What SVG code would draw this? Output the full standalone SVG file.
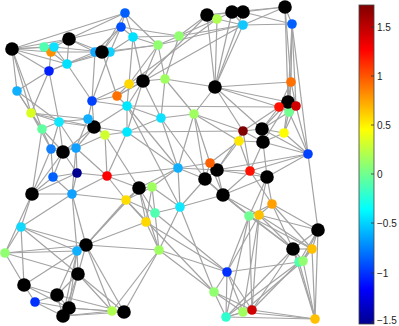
<svg xmlns="http://www.w3.org/2000/svg" width="399" height="326" viewBox="0 0 399 326">
<style>
.e{stroke:#a3a3a3;stroke-width:1.2;fill:none}
.k{fill:#000}
.t{font-family:"Liberation Sans",Arial,sans-serif;font-size:10px;fill:#222}
.tk{stroke:#333;stroke-width:0.8}
</style>
<defs>
<linearGradient id="jet" x1="0" y1="1" x2="0" y2="0">
<stop offset="0" stop-color="#00008f"/>
<stop offset="0.11" stop-color="#0000ff"/>
<stop offset="0.36" stop-color="#00ffff"/>
<stop offset="0.61" stop-color="#ffff00"/>
<stop offset="0.86" stop-color="#ff0000"/>
<stop offset="1" stop-color="#800000"/>
</linearGradient>
</defs>
<rect width="399" height="326" fill="#fff"/>
<g id="connectors">
<line class="e" x1="12" y1="49" x2="69" y2="39"/><line class="e" x1="12" y1="49" x2="44" y2="47"/><line class="e" x1="12" y1="49" x2="54" y2="47"/><line class="e" x1="12" y1="49" x2="51" y2="52"/><line class="e" x1="12" y1="49" x2="49" y2="71"/><line class="e" x1="12" y1="49" x2="17" y2="91"/><line class="e" x1="12" y1="49" x2="31" y2="113"/><line class="e" x1="12" y1="49" x2="67" y2="64"/><line class="e" x1="12" y1="49" x2="125" y2="13"/><line class="e" x1="12" y1="49" x2="42" y2="129"/><line class="e" x1="17" y1="91" x2="31" y2="113"/><line class="e" x1="44" y1="47" x2="69" y2="39"/><line class="e" x1="54" y1="47" x2="69" y2="39"/><line class="e" x1="51" y1="52" x2="67" y2="64"/><line class="e" x1="51" y1="52" x2="49" y2="71"/><line class="e" x1="54" y1="47" x2="67" y2="64"/><line class="e" x1="67" y1="64" x2="49" y2="71"/><line class="e" x1="69" y1="39" x2="67" y2="64"/><line class="e" x1="69" y1="39" x2="102" y2="52"/><line class="e" x1="69" y1="39" x2="95" y2="52"/><line class="e" x1="69" y1="39" x2="125" y2="13"/><line class="e" x1="69" y1="39" x2="121" y2="27"/><line class="e" x1="54" y1="47" x2="102" y2="52"/><line class="e" x1="51" y1="52" x2="95" y2="52"/><line class="e" x1="67" y1="64" x2="102" y2="52"/><line class="e" x1="67" y1="64" x2="110" y2="52"/><line class="e" x1="49" y1="71" x2="95" y2="52"/><line class="e" x1="49" y1="71" x2="17" y2="91"/><line class="e" x1="49" y1="71" x2="31" y2="113"/><line class="e" x1="17" y1="91" x2="42" y2="129"/><line class="e" x1="17" y1="91" x2="59" y2="122"/><line class="e" x1="67" y1="64" x2="92" y2="101"/><line class="e" x1="49" y1="71" x2="59" y2="122"/>
<line class="e" x1="102" y1="52" x2="125" y2="13"/><line class="e" x1="102" y1="52" x2="121" y2="27"/><line class="e" x1="110" y1="52" x2="121" y2="27"/><line class="e" x1="110" y1="52" x2="133" y2="37"/><line class="e" x1="95" y1="52" x2="121" y2="27"/><line class="e" x1="125" y1="13" x2="121" y2="27"/><line class="e" x1="125" y1="13" x2="133" y2="37"/><line class="e" x1="121" y1="27" x2="133" y2="37"/><line class="e" x1="102" y1="52" x2="158" y2="45"/><line class="e" x1="110" y1="52" x2="158" y2="45"/><line class="e" x1="133" y1="37" x2="158" y2="45"/><line class="e" x1="121" y1="27" x2="179" y2="36"/><line class="e" x1="133" y1="37" x2="179" y2="36"/><line class="e" x1="125" y1="13" x2="158" y2="45"/><line class="e" x1="95" y1="52" x2="92" y2="101"/><line class="e" x1="110" y1="52" x2="92" y2="101"/><line class="e" x1="102" y1="52" x2="117" y2="96"/>
<line class="e" x1="158" y1="45" x2="179" y2="36"/><line class="e" x1="158" y1="45" x2="165" y2="79"/><line class="e" x1="158" y1="45" x2="129" y2="84"/><line class="e" x1="158" y1="45" x2="143" y2="81"/><line class="e" x1="133" y1="37" x2="129" y2="84"/><line class="e" x1="133" y1="37" x2="143" y2="81"/><line class="e" x1="179" y1="36" x2="207" y2="15"/><line class="e" x1="179" y1="36" x2="217" y2="19"/><line class="e" x1="179" y1="36" x2="165" y2="79"/><line class="e" x1="179" y1="36" x2="243" y2="25"/><line class="e" x1="158" y1="45" x2="243" y2="25"/><line class="e" x1="207" y1="15" x2="232" y2="12"/><line class="e" x1="207" y1="15" x2="215" y2="87"/><line class="e" x1="217" y1="19" x2="215" y2="87"/><line class="e" x1="217" y1="19" x2="232" y2="12"/><line class="e" x1="217" y1="19" x2="243" y2="25"/><line class="e" x1="232" y1="12" x2="243" y2="25"/><line class="e" x1="232" y1="12" x2="285" y2="7"/><line class="e" x1="243" y1="12" x2="285" y2="7"/><line class="e" x1="243" y1="25" x2="285" y2="7"/><line class="e" x1="243" y1="25" x2="292" y2="24"/><line class="e" x1="243" y1="12" x2="292" y2="24"/><line class="e" x1="285" y1="7" x2="292" y2="24"/><line class="e" x1="232" y1="12" x2="215" y2="87"/><line class="e" x1="243" y1="12" x2="215" y2="87"/><line class="e" x1="243" y1="25" x2="215" y2="87"/><line class="e" x1="207" y1="15" x2="243" y2="12"/>
<line class="e" x1="285" y1="7" x2="291" y2="82"/><line class="e" x1="285" y1="7" x2="288" y2="102"/><line class="e" x1="292" y1="24" x2="291" y2="82"/><line class="e" x1="292" y1="24" x2="288" y2="102"/><line class="e" x1="292" y1="24" x2="296" y2="106"/><line class="e" x1="292" y1="24" x2="308" y2="154"/><line class="e" x1="291" y1="82" x2="288" y2="102"/><line class="e" x1="291" y1="82" x2="279" y2="107"/><line class="e" x1="291" y1="82" x2="296" y2="106"/><line class="e" x1="291" y1="82" x2="289" y2="112"/><line class="e" x1="279" y1="107" x2="289" y2="112"/><line class="e" x1="296" y1="106" x2="289" y2="112"/><line class="e" x1="215" y1="87" x2="288" y2="102"/><line class="e" x1="215" y1="87" x2="279" y2="107"/><line class="e" x1="215" y1="87" x2="291" y2="82"/><line class="e" x1="288" y1="102" x2="262" y2="129"/><line class="e" x1="279" y1="107" x2="262" y2="129"/><line class="e" x1="289" y1="112" x2="262" y2="129"/><line class="e" x1="289" y1="112" x2="284" y2="133"/><line class="e" x1="296" y1="106" x2="284" y2="133"/><line class="e" x1="288" y1="102" x2="284" y2="133"/><line class="e" x1="279" y1="107" x2="243" y2="131"/><line class="e" x1="296" y1="106" x2="308" y2="154"/><line class="e" x1="289" y1="112" x2="308" y2="154"/><line class="e" x1="288" y1="102" x2="263" y2="142"/>
<line class="e" x1="92" y1="101" x2="117" y2="96"/><line class="e" x1="92" y1="101" x2="129" y2="84"/><line class="e" x1="92" y1="101" x2="127" y2="106"/><line class="e" x1="92" y1="101" x2="88" y2="119"/><line class="e" x1="92" y1="101" x2="94" y2="127"/><line class="e" x1="117" y1="96" x2="129" y2="84"/><line class="e" x1="117" y1="96" x2="127" y2="106"/><line class="e" x1="117" y1="96" x2="143" y2="81"/><line class="e" x1="129" y1="84" x2="143" y2="81"/><line class="e" x1="129" y1="84" x2="127" y2="106"/><line class="e" x1="143" y1="81" x2="127" y2="106"/><line class="e" x1="143" y1="81" x2="165" y2="79"/><line class="e" x1="143" y1="81" x2="127" y2="132"/><line class="e" x1="143" y1="81" x2="161" y2="118"/><line class="e" x1="165" y1="79" x2="215" y2="87"/><line class="e" x1="165" y1="79" x2="161" y2="118"/><line class="e" x1="165" y1="79" x2="194" y2="114"/><line class="e" x1="215" y1="87" x2="194" y2="114"/><line class="e" x1="215" y1="87" x2="243" y2="131"/><line class="e" x1="215" y1="87" x2="262" y2="129"/><line class="e" x1="143" y1="81" x2="207" y2="15"/><line class="e" x1="117" y1="96" x2="243" y2="25"/><line class="e" x1="129" y1="84" x2="217" y2="19"/><line class="e" x1="127" y1="106" x2="127" y2="132"/><line class="e" x1="127" y1="106" x2="161" y2="118"/><line class="e" x1="127" y1="106" x2="178" y2="168"/><line class="e" x1="127" y1="106" x2="94" y2="127"/><line class="e" x1="127" y1="106" x2="180" y2="207"/><line class="e" x1="127" y1="106" x2="279" y2="107"/><line class="e" x1="127" y1="132" x2="243" y2="131"/>
<line class="e" x1="31" y1="113" x2="59" y2="122"/><line class="e" x1="31" y1="113" x2="42" y2="129"/><line class="e" x1="31" y1="113" x2="88" y2="119"/><line class="e" x1="31" y1="113" x2="94" y2="127"/><line class="e" x1="31" y1="113" x2="51" y2="149"/><line class="e" x1="59" y1="122" x2="42" y2="129"/><line class="e" x1="59" y1="122" x2="88" y2="119"/><line class="e" x1="59" y1="122" x2="94" y2="127"/><line class="e" x1="59" y1="122" x2="51" y2="149"/><line class="e" x1="59" y1="122" x2="63" y2="152"/><line class="e" x1="59" y1="122" x2="76" y2="148"/><line class="e" x1="42" y1="129" x2="51" y2="149"/><line class="e" x1="42" y1="129" x2="63" y2="152"/><line class="e" x1="42" y1="129" x2="32" y2="194"/><line class="e" x1="88" y1="119" x2="105" y2="135"/><line class="e" x1="88" y1="119" x2="76" y2="148"/><line class="e" x1="94" y1="127" x2="105" y2="135"/><line class="e" x1="94" y1="127" x2="127" y2="132"/><line class="e" x1="94" y1="127" x2="63" y2="152"/><line class="e" x1="94" y1="127" x2="76" y2="148"/><line class="e" x1="105" y1="135" x2="127" y2="132"/><line class="e" x1="105" y1="135" x2="107" y2="176"/><line class="e" x1="105" y1="135" x2="76" y2="148"/><line class="e" x1="127" y1="132" x2="161" y2="118"/><line class="e" x1="127" y1="132" x2="107" y2="176"/><line class="e" x1="127" y1="132" x2="178" y2="168"/><line class="e" x1="161" y1="118" x2="194" y2="114"/><line class="e" x1="161" y1="118" x2="178" y2="168"/><line class="e" x1="194" y1="114" x2="178" y2="168"/><line class="e" x1="194" y1="114" x2="210" y2="163"/><line class="e" x1="194" y1="114" x2="205" y2="179"/><line class="e" x1="194" y1="114" x2="243" y2="131"/><line class="e" x1="194" y1="114" x2="239" y2="141"/><line class="e" x1="161" y1="118" x2="205" y2="179"/>
<line class="e" x1="243" y1="131" x2="262" y2="129"/><line class="e" x1="243" y1="131" x2="239" y2="141"/><line class="e" x1="243" y1="131" x2="263" y2="142"/><line class="e" x1="262" y1="129" x2="284" y2="133"/><line class="e" x1="262" y1="129" x2="263" y2="142"/><line class="e" x1="284" y1="133" x2="263" y2="142"/><line class="e" x1="239" y1="141" x2="263" y2="142"/><line class="e" x1="243" y1="131" x2="250" y2="171"/><line class="e" x1="239" y1="141" x2="250" y2="171"/><line class="e" x1="262" y1="129" x2="308" y2="154"/><line class="e" x1="284" y1="133" x2="308" y2="154"/><line class="e" x1="263" y1="142" x2="308" y2="154"/><line class="e" x1="239" y1="141" x2="217" y2="170"/><line class="e" x1="239" y1="141" x2="210" y2="163"/><line class="e" x1="263" y1="142" x2="250" y2="171"/><line class="e" x1="263" y1="142" x2="267" y2="177"/><line class="e" x1="308" y1="154" x2="217" y2="170"/><line class="e" x1="308" y1="154" x2="250" y2="171"/><line class="e" x1="308" y1="154" x2="267" y2="177"/><line class="e" x1="308" y1="154" x2="318" y2="230"/><line class="e" x1="243" y1="131" x2="217" y2="170"/>
<line class="e" x1="51" y1="149" x2="63" y2="152"/><line class="e" x1="51" y1="149" x2="76" y2="148"/><line class="e" x1="51" y1="149" x2="53" y2="177"/><line class="e" x1="51" y1="149" x2="32" y2="194"/><line class="e" x1="63" y1="152" x2="76" y2="148"/><line class="e" x1="63" y1="152" x2="53" y2="177"/><line class="e" x1="63" y1="152" x2="77" y2="173"/><line class="e" x1="63" y1="152" x2="32" y2="194"/><line class="e" x1="76" y1="148" x2="77" y2="173"/><line class="e" x1="76" y1="148" x2="107" y2="176"/><line class="e" x1="53" y1="177" x2="77" y2="173"/><line class="e" x1="53" y1="177" x2="32" y2="194"/><line class="e" x1="77" y1="173" x2="107" y2="176"/><line class="e" x1="77" y1="173" x2="32" y2="194"/><line class="e" x1="77" y1="173" x2="72" y2="194"/><line class="e" x1="53" y1="177" x2="72" y2="194"/><line class="e" x1="107" y1="176" x2="72" y2="194"/><line class="e" x1="32" y1="194" x2="72" y2="194"/><line class="e" x1="76" y1="148" x2="72" y2="194"/><line class="e" x1="107" y1="176" x2="139" y2="188"/><line class="e" x1="107" y1="176" x2="178" y2="168"/><line class="e" x1="107" y1="176" x2="126" y2="200"/><line class="e" x1="105" y1="135" x2="139" y2="188"/>
<line class="e" x1="178" y1="168" x2="210" y2="163"/><line class="e" x1="178" y1="168" x2="217" y2="170"/><line class="e" x1="178" y1="168" x2="205" y2="179"/><line class="e" x1="178" y1="168" x2="139" y2="188"/><line class="e" x1="178" y1="168" x2="152" y2="187"/><line class="e" x1="178" y1="168" x2="180" y2="207"/><line class="e" x1="210" y1="163" x2="205" y2="179"/><line class="e" x1="217" y1="170" x2="205" y2="179"/><line class="e" x1="217" y1="170" x2="250" y2="171"/><line class="e" x1="217" y1="170" x2="223" y2="195"/><line class="e" x1="205" y1="179" x2="223" y2="195"/><line class="e" x1="210" y1="163" x2="223" y2="195"/><line class="e" x1="250" y1="171" x2="267" y2="177"/><line class="e" x1="250" y1="171" x2="223" y2="195"/><line class="e" x1="267" y1="177" x2="223" y2="195"/><line class="e" x1="205" y1="179" x2="180" y2="207"/><line class="e" x1="217" y1="170" x2="267" y2="177"/><line class="e" x1="267" y1="177" x2="272" y2="204"/><line class="e" x1="250" y1="171" x2="272" y2="204"/><line class="e" x1="267" y1="177" x2="249" y2="216"/><line class="e" x1="267" y1="177" x2="259" y2="215"/><line class="e" x1="223" y1="195" x2="249" y2="216"/><line class="e" x1="223" y1="195" x2="259" y2="215"/><line class="e" x1="223" y1="195" x2="180" y2="207"/><line class="e" x1="205" y1="179" x2="249" y2="216"/>
<line class="e" x1="139" y1="188" x2="152" y2="187"/><line class="e" x1="139" y1="188" x2="126" y2="200"/><line class="e" x1="139" y1="188" x2="155" y2="213"/><line class="e" x1="139" y1="188" x2="146" y2="222"/><line class="e" x1="152" y1="187" x2="126" y2="200"/><line class="e" x1="152" y1="187" x2="155" y2="213"/><line class="e" x1="152" y1="187" x2="146" y2="222"/><line class="e" x1="152" y1="187" x2="180" y2="207"/><line class="e" x1="126" y1="200" x2="155" y2="213"/><line class="e" x1="126" y1="200" x2="146" y2="222"/><line class="e" x1="180" y1="207" x2="155" y2="213"/><line class="e" x1="126" y1="200" x2="72" y2="194"/><line class="e" x1="126" y1="200" x2="86" y2="245"/><line class="e" x1="146" y1="222" x2="159" y2="250"/><line class="e" x1="155" y1="213" x2="159" y2="250"/><line class="e" x1="180" y1="207" x2="159" y2="250"/><line class="e" x1="139" y1="188" x2="159" y2="250"/><line class="e" x1="126" y1="200" x2="214" y2="292"/><line class="e" x1="180" y1="207" x2="214" y2="292"/><line class="e" x1="146" y1="222" x2="227" y2="272"/><line class="e" x1="155" y1="213" x2="227" y2="272"/>
<line class="e" x1="272" y1="204" x2="249" y2="216"/><line class="e" x1="272" y1="204" x2="259" y2="215"/><line class="e" x1="272" y1="204" x2="318" y2="230"/><line class="e" x1="272" y1="204" x2="293" y2="249"/><line class="e" x1="249" y1="216" x2="293" y2="249"/><line class="e" x1="259" y1="215" x2="293" y2="249"/><line class="e" x1="259" y1="215" x2="318" y2="230"/><line class="e" x1="249" y1="216" x2="312" y2="249"/><line class="e" x1="259" y1="215" x2="312" y2="249"/><line class="e" x1="318" y1="230" x2="293" y2="249"/><line class="e" x1="318" y1="230" x2="312" y2="249"/><line class="e" x1="318" y1="230" x2="303" y2="261"/><line class="e" x1="318" y1="230" x2="299" y2="262"/><line class="e" x1="318" y1="230" x2="315" y2="319"/><line class="e" x1="293" y1="249" x2="312" y2="249"/><line class="e" x1="293" y1="249" x2="299" y2="262"/><line class="e" x1="293" y1="249" x2="303" y2="261"/><line class="e" x1="312" y1="249" x2="303" y2="261"/><line class="e" x1="312" y1="249" x2="315" y2="319"/><line class="e" x1="293" y1="249" x2="315" y2="319"/><line class="e" x1="303" y1="261" x2="315" y2="319"/><line class="e" x1="249" y1="216" x2="227" y2="272"/><line class="e" x1="259" y1="215" x2="227" y2="272"/><line class="e" x1="249" y1="216" x2="226" y2="317"/><line class="e" x1="259" y1="215" x2="243" y2="312"/><line class="e" x1="249" y1="216" x2="252" y2="310"/><line class="e" x1="293" y1="249" x2="252" y2="310"/><line class="e" x1="293" y1="249" x2="226" y2="317"/><line class="e" x1="259" y1="215" x2="252" y2="310"/><line class="e" x1="312" y1="249" x2="299" y2="262"/><line class="e" x1="272" y1="204" x2="312" y2="249"/><line class="e" x1="223" y1="195" x2="293" y2="249"/>
<line class="e" x1="32" y1="194" x2="21" y2="227"/><line class="e" x1="32" y1="194" x2="5" y2="253"/><line class="e" x1="72" y1="194" x2="21" y2="227"/><line class="e" x1="72" y1="194" x2="77" y2="251"/><line class="e" x1="72" y1="194" x2="86" y2="245"/><line class="e" x1="21" y1="227" x2="5" y2="253"/><line class="e" x1="21" y1="227" x2="77" y2="251"/><line class="e" x1="21" y1="227" x2="86" y2="245"/><line class="e" x1="21" y1="227" x2="78" y2="274"/><line class="e" x1="5" y1="253" x2="77" y2="251"/><line class="e" x1="5" y1="253" x2="86" y2="245"/><line class="e" x1="5" y1="253" x2="24" y2="285"/><line class="e" x1="5" y1="253" x2="78" y2="274"/><line class="e" x1="77" y1="251" x2="78" y2="274"/><line class="e" x1="77" y1="251" x2="57" y2="295"/><line class="e" x1="77" y1="251" x2="69" y2="308"/><line class="e" x1="77" y1="251" x2="63" y2="316"/><line class="e" x1="86" y1="245" x2="78" y2="274"/><line class="e" x1="86" y1="245" x2="112" y2="311"/><line class="e" x1="86" y1="245" x2="124" y2="312"/><line class="e" x1="86" y1="245" x2="139" y2="188"/><line class="e" x1="86" y1="245" x2="146" y2="222"/><line class="e" x1="78" y1="274" x2="57" y2="295"/><line class="e" x1="78" y1="274" x2="69" y2="308"/><line class="e" x1="78" y1="274" x2="63" y2="316"/><line class="e" x1="78" y1="274" x2="112" y2="311"/><line class="e" x1="78" y1="274" x2="124" y2="312"/><line class="e" x1="24" y1="285" x2="57" y2="295"/><line class="e" x1="24" y1="285" x2="35" y2="302"/><line class="e" x1="24" y1="285" x2="77" y2="251"/><line class="e" x1="24" y1="285" x2="69" y2="308"/><line class="e" x1="57" y1="295" x2="35" y2="302"/><line class="e" x1="57" y1="295" x2="69" y2="308"/><line class="e" x1="57" y1="295" x2="63" y2="316"/><line class="e" x1="35" y1="302" x2="69" y2="308"/><line class="e" x1="35" y1="302" x2="63" y2="316"/><line class="e" x1="69" y1="308" x2="112" y2="311"/><line class="e" x1="63" y1="316" x2="112" y2="311"/><line class="e" x1="63" y1="316" x2="124" y2="312"/><line class="e" x1="69" y1="308" x2="124" y2="312"/><line class="e" x1="57" y1="295" x2="124" y2="312"/><line class="e" x1="124" y1="312" x2="159" y2="250"/><line class="e" x1="112" y1="311" x2="159" y2="250"/><line class="e" x1="86" y1="245" x2="159" y2="250"/><line class="e" x1="21" y1="227" x2="24" y2="285"/>
<line class="e" x1="159" y1="250" x2="227" y2="272"/><line class="e" x1="159" y1="250" x2="214" y2="292"/><line class="e" x1="227" y1="272" x2="214" y2="292"/><line class="e" x1="227" y1="272" x2="226" y2="317"/><line class="e" x1="227" y1="272" x2="243" y2="312"/><line class="e" x1="227" y1="272" x2="252" y2="310"/><line class="e" x1="227" y1="272" x2="299" y2="262"/><line class="e" x1="214" y1="292" x2="226" y2="317"/><line class="e" x1="214" y1="292" x2="243" y2="312"/><line class="e" x1="214" y1="292" x2="252" y2="310"/><line class="e" x1="226" y1="317" x2="243" y2="312"/><line class="e" x1="226" y1="317" x2="252" y2="310"/><line class="e" x1="226" y1="317" x2="315" y2="319"/><line class="e" x1="243" y1="312" x2="315" y2="319"/><line class="e" x1="252" y1="310" x2="315" y2="319"/><line class="e" x1="299" y1="262" x2="315" y2="319"/><line class="e" x1="303" y1="261" x2="243" y2="312"/><line class="e" x1="299" y1="262" x2="226" y2="317"/><line class="e" x1="299" y1="262" x2="252" y2="310"/>
</g>
<g id="nodes">
<g id="n9"><circle cx="95" cy="52" r="4.8" fill="#10a8ff"/></g>
<g id="n11"><circle cx="110" cy="52" r="4.8" fill="#10d0ff"/></g>
<g id="n28"><circle cx="289" cy="112" r="4.8" fill="#70ff90"/></g>
<g id="n1"><circle class="k" cx="12" cy="49" r="6.8"/></g>
<g id="n5"><circle class="k" cx="69" cy="39" r="6.8"/></g>
<g id="n10"><circle class="k" cx="102" cy="52" r="6.8"/></g>
<g id="n17"><circle class="k" cx="207" cy="15" r="6.8"/></g>
<g id="n19"><circle class="k" cx="232" cy="12" r="6.8"/></g>
<g id="n20"><circle class="k" cx="243" cy="12" r="6.8"/></g>
<g id="n22"><circle class="k" cx="285" cy="7" r="6.8"/></g>
<g id="n25"><circle class="k" cx="288" cy="102" r="6.8"/></g>
<g id="n32"><circle class="k" cx="143" cy="81" r="6.8"/></g>
<g id="n34"><circle class="k" cx="215" cy="87" r="6.8"/></g>
<g id="n40"><circle class="k" cx="94" cy="127" r="6.8"/></g>
<g id="n46"><circle class="k" cx="262" cy="129" r="6.8"/></g>
<g id="n49"><circle class="k" cx="263" cy="142" r="6.8"/></g>
<g id="n52"><circle class="k" cx="63" cy="152" r="6.8"/></g>
<g id="n57"><circle class="k" cx="32" cy="194" r="6.8"/></g>
<g id="n61"><circle class="k" cx="217" cy="170" r="6.8"/></g>
<g id="n62"><circle class="k" cx="205" cy="179" r="6.8"/></g>
<g id="n64"><circle class="k" cx="267" cy="177" r="6.8"/></g>
<g id="n65"><circle class="k" cx="223" cy="195" r="6.8"/></g>
<g id="n66"><circle class="k" cx="139" cy="188" r="6.8"/></g>
<g id="n75"><circle class="k" cx="318" cy="230" r="6.8"/></g>
<g id="n76"><circle class="k" cx="293" cy="249" r="6.8"/></g>
<g id="n83"><circle class="k" cx="86" cy="245" r="6.8"/></g>
<g id="n84"><circle class="k" cx="78" cy="274" r="6.8"/></g>
<g id="n85"><circle class="k" cx="24" cy="285" r="6.8"/></g>
<g id="n86"><circle class="k" cx="57" cy="295" r="6.8"/></g>
<g id="n88"><circle class="k" cx="69" cy="308" r="6.8"/></g>
<g id="n89"><circle class="k" cx="63" cy="316" r="6.8"/></g>
<g id="n91"><circle class="k" cx="124" cy="312" r="6.8"/></g>
<g id="n3"><circle cx="51" cy="52" r="4.8" fill="#ff9000"/></g>
<g id="n2"><circle cx="44" cy="47" r="4.8" fill="#50ffb0"/></g>
<g id="n4"><circle cx="54" cy="47" r="4.8" fill="#10e0ff"/></g>
<g id="n6"><circle cx="67" cy="64" r="4.8" fill="#00e0ff"/></g>
<g id="n7"><circle cx="49" cy="71" r="4.8" fill="#0020ff"/></g>
<g id="n8"><circle cx="17" cy="91" r="4.8" fill="#10b0ff"/></g>
<g id="n12"><circle cx="125" cy="13" r="4.8" fill="#0060ff"/></g>
<g id="n13"><circle cx="121" cy="27" r="4.8" fill="#0050ff"/></g>
<g id="n14"><circle cx="133" cy="37" r="4.8" fill="#00e0ff"/></g>
<g id="n15"><circle cx="158" cy="45" r="4.8" fill="#90ff70"/></g>
<g id="n16"><circle cx="179" cy="36" r="4.8" fill="#90ff70"/></g>
<g id="n18"><circle cx="217" cy="19" r="4.8" fill="#b0ff50"/></g>
<g id="n21"><circle cx="243" cy="25" r="4.8" fill="#10c8ff"/></g>
<g id="n23"><circle cx="292" cy="24" r="4.8" fill="#0060ff"/></g>
<g id="n24"><circle cx="291" cy="82" r="4.8" fill="#ff7000"/></g>
<g id="n26"><circle cx="279" cy="107" r="4.8" fill="#ff1000"/></g>
<g id="n27"><circle cx="296" cy="106" r="4.8" fill="#d00000"/></g>
<g id="n29"><circle cx="92" cy="101" r="4.8" fill="#0040ff"/></g>
<g id="n30"><circle cx="117" cy="96" r="4.8" fill="#ff7000"/></g>
<g id="n31"><circle cx="129" cy="84" r="4.8" fill="#ffd800"/></g>
<g id="n33"><circle cx="165" cy="79" r="4.8" fill="#a0ff60"/></g>
<g id="n35"><circle cx="127" cy="106" r="4.8" fill="#00e8ff"/></g>
<g id="n36"><circle cx="31" cy="113" r="4.8" fill="#d8ff20"/></g>
<g id="n37"><circle cx="59" cy="122" r="4.8" fill="#10e8ff"/></g>
<g id="n38"><circle cx="42" cy="129" r="4.8" fill="#60ffa0"/></g>
<g id="n39"><circle cx="88" cy="119" r="4.8" fill="#10b0ff"/></g>
<g id="n41"><circle cx="105" cy="135" r="4.8" fill="#d0ff30"/></g>
<g id="n42"><circle cx="127" cy="132" r="4.8" fill="#00e8ff"/></g>
<g id="n43"><circle cx="161" cy="118" r="4.8" fill="#10e0ff"/></g>
<g id="n44"><circle cx="194" cy="114" r="4.8" fill="#a0ff60"/></g>
<g id="n45"><circle cx="243" cy="131" r="4.8" fill="#800000"/></g>
<g id="n47"><circle cx="284" cy="133" r="4.8" fill="#ffff00"/></g>
<g id="n48"><circle cx="239" cy="141" r="4.8" fill="#ffe800"/></g>
<g id="n50"><circle cx="308" cy="154" r="4.8" fill="#0040ff"/></g>
<g id="n51"><circle cx="51" cy="149" r="4.8" fill="#1080ff"/></g>
<g id="n53"><circle cx="76" cy="148" r="4.8" fill="#10a0ff"/></g>
<g id="n54"><circle cx="53" cy="177" r="4.8" fill="#0060ff"/></g>
<g id="n55"><circle cx="77" cy="173" r="4.8" fill="#000090"/></g>
<g id="n56"><circle cx="107" cy="176" r="4.8" fill="#ff0000"/></g>
<g id="n58"><circle cx="72" cy="194" r="4.8" fill="#10a0ff"/></g>
<g id="n59"><circle cx="178" cy="168" r="4.8" fill="#10b0ff"/></g>
<g id="n60"><circle cx="210" cy="163" r="4.8" fill="#ff6000"/></g>
<g id="n63"><circle cx="250" cy="171" r="4.8" fill="#ff1000"/></g>
<g id="n67"><circle cx="152" cy="187" r="4.8" fill="#a0ff60"/></g>
<g id="n68"><circle cx="126" cy="200" r="4.8" fill="#ffdd00"/></g>
<g id="n69"><circle cx="180" cy="207" r="4.8" fill="#10e8ff"/></g>
<g id="n70"><circle cx="155" cy="213" r="4.8" fill="#50ffb0"/></g>
<g id="n71"><circle cx="146" cy="222" r="4.8" fill="#ffd800"/></g>
<g id="n72"><circle cx="272" cy="204" r="4.8" fill="#ffa000"/></g>
<g id="n73"><circle cx="249" cy="216" r="4.8" fill="#70ff90"/></g>
<g id="n74"><circle cx="259" cy="215" r="4.8" fill="#ffc000"/></g>
<g id="n77"><circle cx="312" cy="249" r="4.8" fill="#ffc000"/></g>
<g id="n78"><circle cx="299" cy="262" r="4.8" fill="#50ffb0"/></g>
<g id="n79"><circle cx="303" cy="261" r="4.8" fill="#90ff70"/></g>
<g id="n80"><circle cx="21" cy="227" r="4.8" fill="#10d8ff"/></g>
<g id="n81"><circle cx="5" cy="253" r="4.8" fill="#90ff70"/></g>
<g id="n82"><circle cx="77" cy="251" r="4.8" fill="#10b0ff"/></g>
<g id="n87"><circle cx="35" cy="302" r="4.8" fill="#0030ff"/></g>
<g id="n90"><circle cx="112" cy="311" r="4.8" fill="#b0ff50"/></g>
<g id="n92"><circle cx="159" cy="250" r="4.8" fill="#a0ff60"/></g>
<g id="n93"><circle cx="227" cy="272" r="4.8" fill="#0030ff"/></g>
<g id="n94"><circle cx="214" cy="292" r="4.8" fill="#90ff70"/></g>
<g id="n95"><circle cx="226" cy="317" r="4.8" fill="#30ffd0"/></g>
<g id="n96"><circle cx="243" cy="312" r="4.8" fill="#a0ff60"/></g>
<g id="n97"><circle cx="252" cy="310" r="4.8" fill="#d00000"/></g>
<g id="n98"><circle cx="315" cy="319" r="4.8" fill="#ffc000"/></g>
</g>
<g id="colorbar">
<rect x="359" y="5" width="15" height="319" fill="url(#jet)" stroke="#444" stroke-width="0.8"/>
<g class="tk">
<line x1="371" y1="27" x2="374" y2="27"/><line x1="371" y1="76" x2="374" y2="76"/><line x1="371" y1="125" x2="374" y2="125"/><line x1="371" y1="174" x2="374" y2="174"/><line x1="371" y1="223" x2="374" y2="223"/><line x1="371" y1="273" x2="374" y2="273"/><line x1="371" y1="322" x2="374" y2="322"/>
</g>
<text class="t" x="377" y="31">1.5</text>
<text class="t" x="377" y="80">1</text>
<text class="t" x="377" y="129">0.5</text>
<text class="t" x="377" y="178">0</text>
<text class="t" x="377" y="227">−0.5</text>
<text class="t" x="377" y="277">−1</text>
<text class="t" x="377" y="324">−1.5</text>
</g>
</svg>
